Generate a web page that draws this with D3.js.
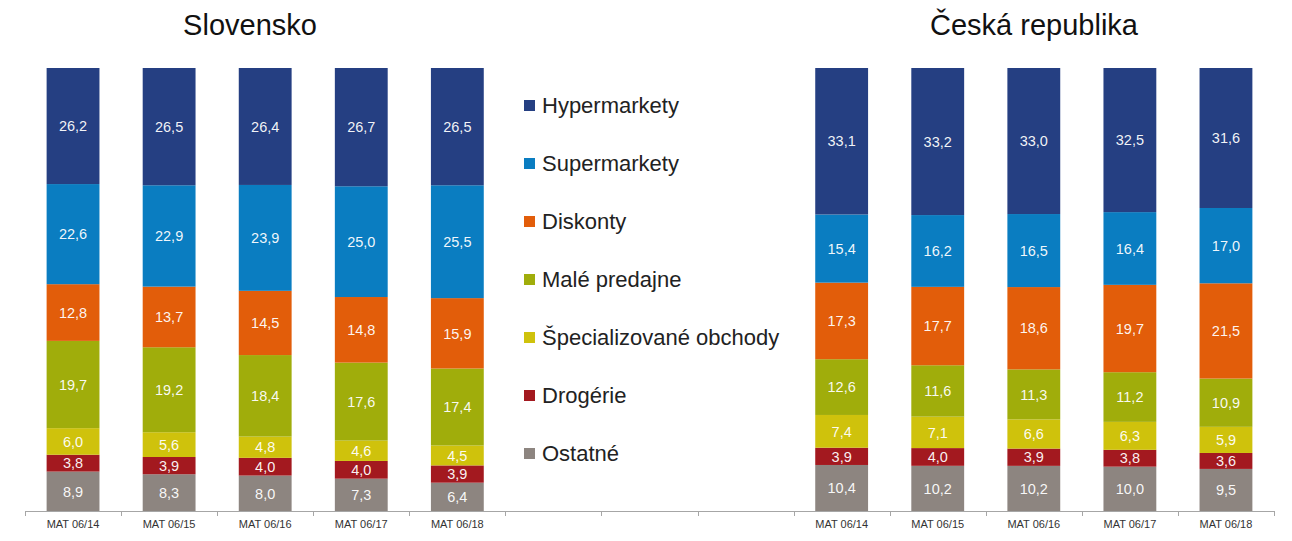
<!DOCTYPE html>
<html><head><meta charset="utf-8">
<script src="https://cdn.jsdelivr.net/npm/d3@7"></script>
<style>body{margin:0;background:#fff;}svg{display:block;font-family:"Liberation Sans",Arial,sans-serif;}</style>
</head><body><svg id="c" width="1292" height="541"></svg>
<script>
const periods = ["MAT 06/14","MAT 06/15","MAT 06/16","MAT 06/17","MAT 06/18"];
const seriesNames = ["Hypermarkety","Supermarkety","Diskonty","Malé predajne","Špecializované obchody","Drogérie","Ostatné"];
const colors = ["#253F82","#0A7DC1","#E25D0A","#A0AD0B","#CFC20C","#A3191F","#8D8580"];
// Slovensko values per series (order as seriesNames), per period
const skHyper = [26.2,26.5,26.4,26.7,26.5];
const skSuper = [22.6,22.9,23.9,25.0,25.5];
const skDisk  = [12.8,13.7,14.5,14.8,15.9];
const skMale  = [19.7,19.2,18.4,17.6,17.4];
const skSpec  = [6.0,5.6,4.8,4.6,4.5];
const skDrog  = [3.8,3.9,4.0,4.0,3.9];
const skOst   = [8.9,8.3,8.0,7.3,6.4];
// Česká republika
const czHyper = [33.1,33.2,33.0,32.5,31.6];
const czSuper = [15.4,16.2,16.5,16.4,17.0];
const czDisk  = [17.3,17.7,18.6,19.7,21.5];
const czMale  = [12.6,11.6,11.3,11.2,10.9];
const czSpec  = [7.4,7.1,6.6,6.3,5.9];
const czDrog  = [3.9,4.0,3.9,3.8,3.6];
const czOst   = [10.4,10.2,10.2,10.0,9.5];
const titles = ["Slovensko","Česká republika"];

const skSeries = [skHyper,skSuper,skDisk,skMale,skSpec,skDrog,skOst];
const czSeries = [czHyper,czSuper,czDisk,czMale,czSpec,czDrog,czOst];

const svg = d3.select("#c");
// 13 slots: 5 SK, 3 empty (legend), 5 CZ
const slots = [...periods.map(p=>"SK|"+p), "gap1","gap2","gap3", ...periods.map(p=>"CZ|"+p)];
const x = d3.scaleBand().domain(slots).range([25,1274]).paddingInner(0.45).paddingOuter(0.225);
const xTicks = d3.scaleBand().domain(slots).range([25,1274]);
const y = d3.scaleLinear().domain([0,1]).range([511,68]);
const color = d3.scaleOrdinal().domain(seriesNames).range(colors);

function buildRows(prefix, series){
  return periods.map((p,i)=>{
    const row = {slot: prefix+"|"+p};
    seriesNames.forEach((s,k)=>row[s]=series[k][i]);
    return row;
  });
}
const rows = [...buildRows("SK",skSeries), ...buildRows("CZ",czSeries)];
const keysBottomUp = seriesNames.slice().reverse();
const stack = d3.stack().keys(keysBottomUp).offset(d3.stackOffsetExpand);
const stacked = stack(rows);

const g = svg.append("g");
stacked.forEach(layer=>{
  const key = layer.key;
  const lg = g.append("g");
  lg.selectAll("rect").data(layer).join("rect")
    .attr("x", d=>x(d.data.slot))
    .attr("width", x.bandwidth())
    .attr("y", d=>y(d[1]))
    .attr("height", d=>y(d[0])-y(d[1]))
    .attr("fill", color(key));
  lg.selectAll("text").data(layer).join("text")
    .attr("x", d=>x(d.data.slot)+x.bandwidth()/2)
    .attr("y", d=>(y(d[0])+y(d[1]))/2)
    .attr("dy","0.36em")
    .attr("text-anchor","middle")
    .attr("fill", "#fff")
    .attr("fill-opacity", 0.95)
    .attr("font-size", 14.5)
    .text(d=>d3.format(".1f")(d.data[key]).replace(".",","));
});

// axis
const axisG = svg.append("g");
axisG.append("line").attr("x1",25).attr("x2",1274).attr("y1",511.5).attr("y2",511.5)
  .attr("stroke","#a6a6a6").attr("stroke-width",1);
const tickPos = slots.map(s=>xTicks(s)).concat([xTicks(slots[slots.length-1])+xTicks.bandwidth()]);
axisG.selectAll("line.t").data(tickPos).join("line").attr("class","t")
  .attr("x1",d=>Math.round(d)+0.5).attr("x2",d=>Math.round(d)+0.5)
  .attr("y1",511).attr("y2",516).attr("stroke","#a6a6a6");
axisG.selectAll("text").data(rows).join("text")
  .attr("x", d=>xTicks(d.slot)+xTicks.bandwidth()/2)
  .attr("y", 528)
  .attr("text-anchor","middle")
  .attr("font-size",11)
  .attr("fill","#333")
  .text(d=>d.slot.split("|")[1]);

// titles
const titleX = [250, 1034];
svg.selectAll("text.title").data(titles).join("text").attr("class","title")
  .attr("x",(d,i)=>titleX[i]).attr("y",35)
  .attr("text-anchor","middle").attr("font-size",29).attr("fill","#111")
  .text(d=>d);

// legend
const leg = svg.append("g");
const legY = d3.scalePoint().domain(seriesNames).range([105,453]);
seriesNames.forEach(s=>{
  const gy = legY(s);
  leg.append("rect").attr("x",524).attr("y",gy-5).attr("width",11).attr("height",11).attr("fill",color(s));
  leg.append("text").attr("x",542).attr("y",gy).attr("dy","0.36em")
    .attr("font-size",22).attr("fill","#222").text(s);
});
</script></body></html>
